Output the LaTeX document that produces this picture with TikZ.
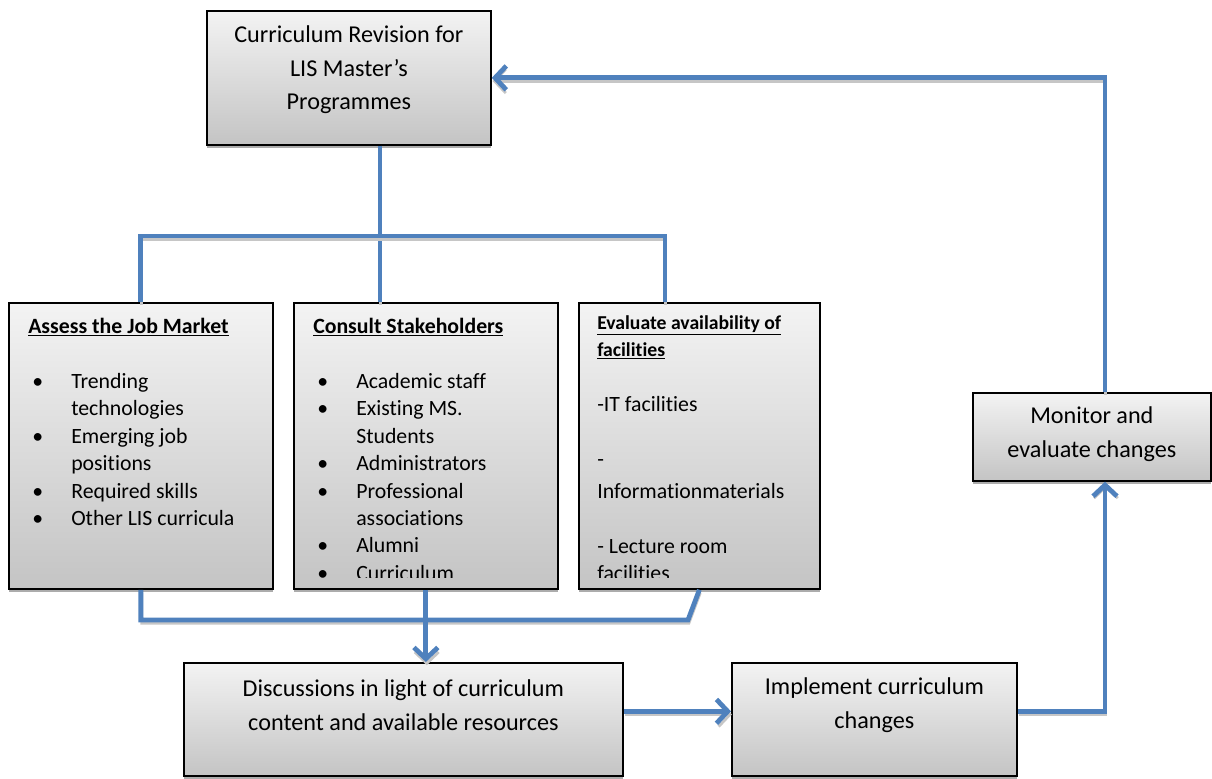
\documentclass[tikz,border=0pt]{standalone}
\usepackage{fontspec}
\setmainfont{Carlito}[Ligatures={NoCommon,NoRare,NoContextual}]
\usetikzlibrary{arrows.meta,shadows,positioning}

\definecolor{flowblue}{RGB}{79,129,189}
\definecolor{boxtop}{RGB}{243,243,243}
\definecolor{boxbot}{RGB}{196,196,196}

\newcommand{\bul}{\makebox[1.075cm][l]{\hspace{0.1cm}\textbullet}}
\newcommand{\wrapin}{\hspace*{1.075cm}}
\newcommand{\headsmall}{\fontsize{14}{19.5}\selectfont\bfseries}

\tikzset{
  stagebox/.style={draw=black, line width=1.2pt, top color=boxtop, bottom color=boxbot,
    anchor=north west, inner sep=0pt,
    drop shadow={shadow xshift=0pt, shadow yshift=-2.3pt, fill=gray!65, opacity=1}},
  feed/.style={draw=flowblue, line width=3.4pt,
    preaction={draw=gray!45, line width=2pt, transform canvas={xshift=0.6pt,yshift=-2.3pt}}},
  tip/.style={-{Straight Barb[length=8pt,width=17pt]}},
  bigtext/.style={font=\fontsize{17.2}{24}\selectfont, align=center, inner sep=0pt},
  listtext/.style={font=\fontsize{15.5}{19.5}\selectfont, align=left, anchor=north west, inner sep=0pt},
}

\begin{document}
\begin{tikzpicture}[x=0.025cm, y=-0.025cm]
\useasboundingbox (0,0) rectangle (1212,778);

% boxes
\node[stagebox, minimum width=7.1cm, minimum height=3.35cm] (rev) at (206,10) {};
\node[stagebox, minimum width=6.6cm, minimum height=7.15cm] (job) at (8,302) {};
\node[stagebox, minimum width=6.6cm, minimum height=7.15cm] (stake) at (293,302) {};
\node[stagebox, minimum width=6.025cm, minimum height=7.15cm] (facil) at (578,302) {};
\node[stagebox, minimum width=5.95cm, minimum height=2.2cm] (monitor) at (972,392) {};
\node[stagebox, minimum width=10.975cm, minimum height=2.825cm] (discuss) at (183,662) {};
\node[stagebox, minimum width=7.125cm, minimum height=2.825cm] (impl) at (731,662) {};

% bends of the connectors
\coordinate (bar) at (380,236);
\coordinate (facilin) at (665,236);
\coordinate (merge) at (688,620);
\coordinate (loop) at (1105,75);

% connectors
\draw[feed] (rev.south -| bar) -- (stake.north -| bar);
\draw[feed] (job.north) |- (facilin) -- (facil.north -| facilin);
\draw[feed] (job.south) |- (merge) -- (facil.south);
\draw[feed, tip] (stake.south) -- (stake.south |- discuss.north);
\draw[feed, tip] ([yshift=0.2cm]discuss.east) -- ([yshift=0.2cm]discuss.east -| impl.west);
\draw[feed, tip] ([yshift=0.2cm]impl.east) -| (monitor.south -| loop);
\draw[feed, tip] (monitor.north -| loop) |- (rev.east);

% texts
\node[bigtext] (revtxt) at ([yshift=0.2cm]rev.center) {Curriculum Revision for\\LIS Master’s\\Programmes};
\node[bigtext] (montxt) at ([yshift=0.06cm]monitor.center) {Monitor and\\evaluate changes};
\node[bigtext] (distxt) at ([yshift=0.35cm]discuss.center) {Discussions in light of curriculum\\content and available resources};
\node[bigtext] (imptxt) at ([yshift=0.35cm]impl.center) {Implement curriculum\\changes};

\node[listtext] (jobtxt) at (28,318) {\textbf{\underline{Assess the Job Market}}\\[19.5pt]
  \bul Trending\\ \wrapin technologies\\ \bul Emerging job\\ \wrapin positions\\
  \bul Required skills\\ \bul Other LIS curricula};

\begin{scope}
\clip (stake.north west) rectangle ([yshift=0.3cm]stake.south east);
\node[listtext] (staketxt) at (313,318) {\textbf{\underline{Consult Stakeholders}}\\[19.5pt]
  \bul Academic staff\\ \bul Existing MS.\\ \wrapin Students\\ \bul Administrators\\
  \bul Professional\\ \wrapin associations\\ \bul Alumni\\ \bul Curriculum};
\end{scope}

\begin{scope}
\clip (facil.north west) rectangle ([yshift=0.3cm]facil.south east);
\node[listtext] (faciltxt) at (597,315) {{\headsmall\underline{Evaluate availability of}}\\
  {\headsmall\underline{facilities}}\\[19.5pt]
  -IT facilities\\[19.5pt]
  -\\[3.3pt]
  Informationmaterials\\[19.5pt]
  - Lecture room\\
  facilities};
\end{scope}
\end{tikzpicture}
\end{document}
